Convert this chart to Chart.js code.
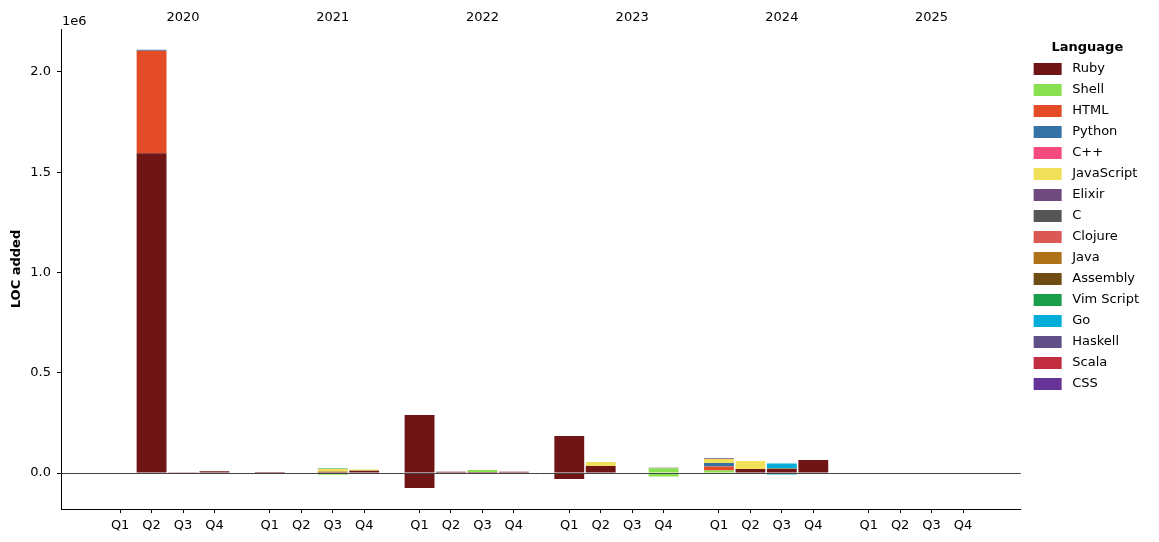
<!DOCTYPE html>
<html>
<head>
<meta charset="utf-8">
<script src="https://cdn.jsdelivr.net/npm/chart.js@4/dist/chart.umd.min.js"></script>
<style>
  html, body { margin: 0; padding: 0; background: #fff; }
  #wrap { width: 1159px; height: 542px; }
</style>
</head>
<body>
<div id="wrap"><canvas id="chart" width="1159" height="542"></canvas></div>
<script>
const years = ['2020', '2021', '2022', '2023', '2024', '2025'];
const quarters = ['Q1', 'Q2', 'Q3', 'Q4'];
const yTicks = [0, 500000, 1000000, 1500000, 2000000];

const languages = ['Ruby', 'Shell', 'HTML', 'Python', 'C++', 'JavaScript', 'Elixir', 'C',
    'Clojure', 'Java', 'Assembly', 'Vim Script', 'Go', 'Haskell', 'Scala', 'CSS'];
const colors = ['#701516', '#89e051', '#e34c26', '#3572a5', '#f34b7d', '#f1e05a', '#6e4a7e', '#555555',
    '#db5855', '#b07219', '#6e4c13', '#199f4b', '#00add8', '#5e5086', '#c22d40', '#663399'];

// LOC per quarter, 2020 Q1 .. 2025 Q4
const rubyAdded    = [0, 1595000, 4000, 9000,  5000, 0, 6000, 11000,  289000, 6000, 5000, 6000,  184000, 35000, 0, 0,  0, 20000, 21000, 65000,  0, 0, 0, 0];
const rubyRemoved  = [0, 0, 0, 0,  0, 0, 0, 0,  -75000, 0, 0, 0,  -30000, 0, 0, 0,  0, -1000, -4000, 0,  0, 0, 0, 0];
const shellAdded   = [0, 0, 0, 0,  0, 0, 0, 2000,  0, 0, 10000, 0,  0, 0, 0, 24000,  13000, 0, 1500, 0,  0, 0, 0, 0];
const shellRemoved = [0, 0, 0, 0,  0, 0, -9000, 0,  0, 0, 0, 0,  0, 0, 0, -18000,  0, 0, 0, 0,  0, 0, 0, 0];
const htmlAdded    = [0, 510000, 0, 0,  0, 0, 0, 0,  0, 0, 0, 0,  0, 0, 0, 0,  20000, 0, 0, 0,  0, 0, 0, 0];
const pythonAdded  = [0, 5000, 0, 0,  0, 0, 0, 0,  0, 0, 0, 0,  0, 0, 0, 0,  17000, 0, 0, 0,  0, 0, 0, 0];
const jsAdded      = [0, 0, 0, 0,  0, 0, 14000, 4000,  0, 0, 0, 0,  0, 20000, 0, 0,  20000, 40000, 0, 0,  0, 0, 0, 0];
const elixirAdded  = [0, 0, 0, 0,  0, 0, 0, 0,  0, 0, 0, 0,  0, 0, 0, 2000,  4000, 0, 0, 0,  0, 0, 0, 0];
const cAdded       = [0, 0, 0, 0,  0, 0, 0, 0,  0, 0, 0, 0,  0, 0, 0, 0,  0, 0, 1500, 0,  0, 0, 0, 0];
const vimAdded     = [0, 0, 0, 0,  0, 0, 2000, 0,  0, 0, 0, 0,  0, 0, 0, 0,  0, 0, 0, 0,  0, 0, 0, 0];
const goAdded      = [0, 0, 0, 0,  0, 0, 0, 0,  0, 0, 0, 0,  0, 0, 0, 0,  0, 0, 23000, 0,  0, 0, 0, 0];
const goRemoved    = [0, 0, 0, 0,  0, 0, 0, 0,  0, 0, 0, 0,  0, 0, 0, 0,  0, 0, -3000, 0,  0, 0, 0, 0];
const nothing      = [0, 0, 0, 0,  0, 0, 0, 0,  0, 0, 0, 0,  0, 0, 0, 0,  0, 0, 0, 0,  0, 0, 0, 0];

const added = [rubyAdded, shellAdded, htmlAdded, pythonAdded, nothing, jsAdded, elixirAdded, cAdded,
    nothing, nothing, nothing, vimAdded, goAdded, nothing, nothing, nothing];
const removed = { Ruby: rubyRemoved, Shell: shellRemoved, Go: goRemoved };

// quarter slots sit around each year tick (year tick lines up with Q3)
const quarterOffsets = [-0.42, -0.21, 0, 0.21];
const xs = years.flatMap((_, i) => quarterOffsets.map(o => i + o));
const xMin = -0.815, xMax = 5.595;

const barOpts = { borderWidth: 0, stack: 'loc', categoryPercentage: 1, barPercentage: 0.95 };

const datasets = languages.map((lang, i) => ({
    label: lang,
    data: xs.map((x, k) => ({ x, y: added[i][k] })),
    backgroundColor: colors[i],
    ...barOpts
}));
languages.forEach((lang, i) => {
    if (!removed[lang]) return;
    datasets.push({
        label: lang,
        isRemoval: true,
        data: xs.map((x, k) => ({ x, y: removed[lang][k] })),
        backgroundColor: colors[i],
        ...barOpts
    });
});

Chart.defaults.font.family = 'DejaVu Sans';
Chart.defaults.font.size = 13;
Chart.defaults.color = '#000';

// zero line over the bars, plus the matplotlib style offset text
const extras = {
    id: 'extras',
    afterDatasetsDraw(chart) {
        const { ctx, chartArea, scales } = chart;
        const y0 = Math.round(scales.y.getPixelForValue(0)) + 0.5;
        ctx.save();
        ctx.strokeStyle = '#444';
        ctx.lineWidth = 1;
        ctx.beginPath();
        ctx.moveTo(chartArea.left, y0);
        ctx.lineTo(chartArea.right, y0);
        ctx.stroke();
        ctx.fillStyle = '#000';
        ctx.font = '13px "DejaVu Sans"';
        ctx.textBaseline = 'bottom';
        ctx.fillText('1e6', chartArea.left + 1, chartArea.top - 1);
        ctx.restore();
    }
};

const defaultLabels = Chart.defaults.plugins.legend.labels.generateLabels;

new Chart(document.getElementById('chart'), {
    type: 'bar',
    data: { datasets },
    plugins: [extras],
    options: {
        responsive: false,
        animation: false,
        layout: { padding: { left: 4, right: 10, top: 0, bottom: 0 } },
        plugins: {
            tooltip: { enabled: false },
            legend: {
                position: 'right',
                align: 'start',
                title: {
                    display: true,
                    text: 'Language',
                    font: { weight: 'bold', size: 13 },
                    padding: { top: 41, bottom: -2 }
                },
                labels: {
                    boxWidth: 28,
                    boxHeight: 12,
                    padding: 8,
                    // a leading space widens the gap between swatch and name
                    generateLabels: chart => defaultLabels(chart).map(l => ({ ...l, text: ' ' + l.text })),
                    filter: (item, data) => !data.datasets[item.datasetIndex].isRemoval
                }
            }
        },
        scales: {
            x: {
                type: 'linear',
                stacked: true,
                offset: false,
                min: xMin,
                max: xMax,
                afterBuildTicks: axis => { axis.ticks = xs.map(v => ({ value: v })); },
                afterFit: axis => { axis.height = 33; },
                ticks: {
                    autoSkip: false,
                    maxRotation: 0,
                    padding: 5,
                    callback: (v, i) => quarters[i % 4]
                },
                grid: { offset: false, drawOnChartArea: false, tickLength: 4, tickColor: '#000' },
                border: { color: '#000' }
            },
            x2: {
                type: 'linear',
                position: 'top',
                offset: false,
                min: xMin,
                max: xMax,
                afterBuildTicks: axis => { axis.ticks = years.map((_, i) => ({ value: i })); },
                afterFit: axis => { axis.height = 29; },
                ticks: { autoSkip: false, maxRotation: 0, padding: -4, callback: (v, i) => years[i] },
                grid: { display: false },
                border: { display: false }
            },
            y: {
                stacked: true,
                min: -179500,
                max: 2214000,
                afterBuildTicks: axis => { axis.ticks = yTicks.map(v => ({ value: v })); },
                afterFit: axis => { axis.width = 57; },
                ticks: { padding: 6, callback: v => (v / 1e6).toFixed(1) },
                title: { display: true, text: 'LOC added', font: { weight: 'bold', size: 13 }, padding: { top: 5, bottom: 0 } },
                grid: { drawOnChartArea: false, tickLength: 4, tickColor: '#000' },
                border: { color: '#000' }
            },
            // empty spacer between the plot and the legend
            gap: {
                type: 'linear',
                position: 'right',
                afterFit: axis => { axis.width = 5; },
                ticks: { display: false },
                grid: { display: false },
                border: { display: false }
            }
        }
    }
});
</script>
</body>
</html>
